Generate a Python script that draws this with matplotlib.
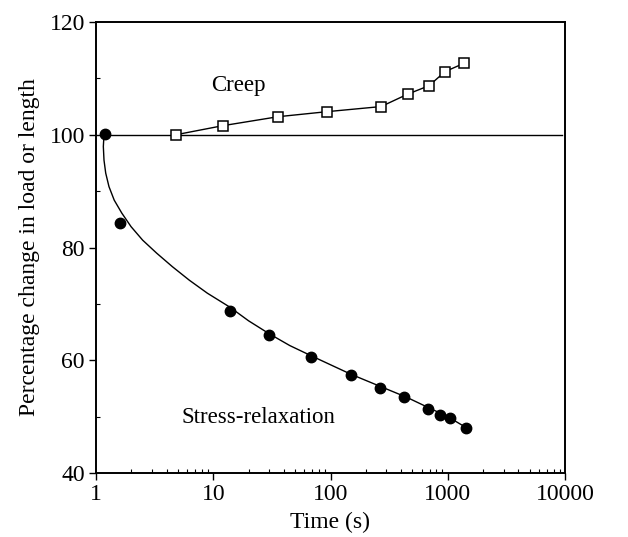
import matplotlib
matplotlib.use("Agg")
import matplotlib.pyplot as plt
from matplotlib.ticker import LogLocator, FixedLocator, NullFormatter

# ---- data ----
creep_t = [4.8, 12.0, 35.7, 94, 270, 455, 692, 948, 1384]
creep_y = [100.0, 101.6, 103.2, 104.1, 105.0, 107.2, 108.7, 111.2, 112.7]

relax_t = [1.2, 1.6, 14.0, 29.9, 68.6, 150, 264, 426, 675, 853, 1051, 1432]
relax_y = [100.2, 84.4, 68.8, 64.5, 60.5, 57.4, 55.1, 53.4, 51.4, 50.2, 49.7, 47.9]

# fitted stress-relaxation curve
fit_t = [1.17, 1.155, 1.17, 1.21, 1.29, 1.43, 1.66, 1.99, 2.5, 3.29, 4.48, 6.25,
         8.9, 13.9, 20, 30, 45, 70, 100, 150, 270, 450, 700, 1000, 1450]
fit_y = [100.0, 97.9, 95.5, 93.2, 90.8, 88.4, 86.1, 83.7, 81.3, 79.0, 76.6, 74.2,
         71.9, 69.4, 67.0, 64.7, 62.6, 60.7, 59.2, 57.5, 55.3, 53.4, 51.5, 50.0, 48.0]

baseline_t = [1, 9500]
baseline_y = [100, 100]

xticks = [1, 10, 100, 1000, 10000]
xticklabels = ["1", "10", "100", "1000", "10000"]
yticks = [40, 60, 80, 100, 120]

plt.rcParams['font.family'] = ['Liberation Serif', 'DejaVu Serif']

fig = plt.figure(figsize=(6.28, 5.37), dpi=100)
ax = fig.add_axes([96 / 628, 1 - 473 / 537, (565 - 96) / 628, (473 - 22) / 537])

ax.plot(baseline_t, baseline_y, color='black', lw=1.0, zorder=2)
ax.plot(fit_t, fit_y, color='black', lw=1.0, zorder=2)
ax.plot(creep_t, creep_y, color='black', lw=1.0, marker='s', ms=6.5,
        mfc='white', mec='black', mew=1.1, zorder=3)
ax.plot(relax_t, relax_y, linestyle='none', marker='o', ms=7.5,
        mfc='black', mec='black', zorder=3)

ax.set_xscale('log')
ax.set_xlim(1, 10000)
ax.set_ylim(40, 120)
ax.set_xticks(xticks)
ax.set_xticklabels(xticklabels)
ax.xaxis.set_minor_locator(LogLocator(base=10, subs=range(2, 10)))
ax.xaxis.set_minor_formatter(NullFormatter())
ax.set_yticks(yticks)
ax.yaxis.set_minor_locator(FixedLocator([50, 70, 90, 110]))

ax.tick_params(axis='both', which='major', direction='out', length=5, width=1.0,
               labelsize=17, pad=3)
ax.tick_params(axis='both', which='minor', direction='in', length=3, width=0.8)

for s in ax.spines.values():
    s.set_linewidth(1.4)

ax.set_xlabel("Time (s)", fontsize=17, labelpad=5)
ax.set_ylabel("Percentage change in load or length", fontsize=17, labelpad=7)

ax.text(16.3, 108.8, "Creep", fontsize=16.5, ha='center', va='center')
ax.text(24.1, 49.8, "Stress-relaxation", fontsize=16.5, ha='center', va='center')

fig.savefig("out.png", dpi=100)
